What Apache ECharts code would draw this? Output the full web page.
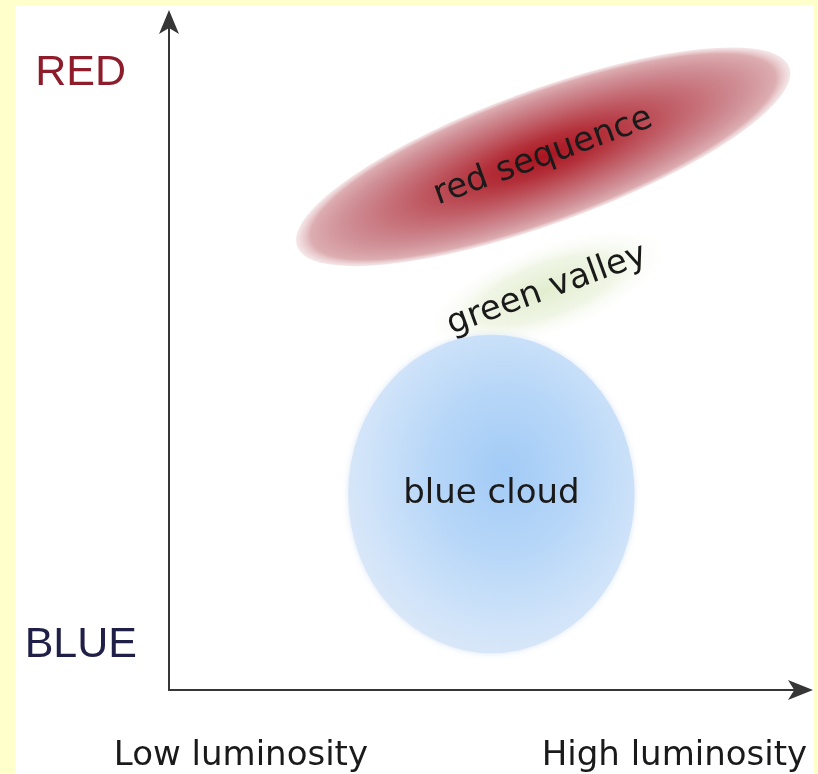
<!DOCTYPE html>
<html><head><meta charset="utf-8">
<script src="https://cdn.jsdelivr.net/npm/echarts@6/dist/echarts.min.js"></script>
<style>
html,body{margin:0;padding:0;background:#ffffcc;width:818px;height:774px;overflow:hidden}
#chart{position:absolute;left:15px;top:5px;width:799px;height:769px;background:#fff}
</style></head><body><div id="chart"></div>
<script>
// Regions of the colour–luminosity diagram (data units: luminosity 0–10, colour 0–10)
const regionNames = ['green valley', 'red sequence', 'blue cloud'];
const regionLuminosity = [5.99, 5.93, 5.11];   // centre, x
const regionColour = [5.98, 7.97, 2.93];       // centre, y
const regionSpreadLum = [2.1, 4.15, 2.27];     // half-extent along luminosity
const regionSpreadCol = [0.7, 1.0, 2.38];      // half-extent along colour
const regionTilt = [20, 20, 0];                // degrees

const xTickValues = [1.14, 8.01];
const xTickLabels = ['Low luminosity', 'High luminosity'];
const yTickValues = [0.67, 9.22];
const yTickLabels = ['BLUE', 'RED'];

const RG = echarts.graphic.RadialGradient;
const fills = [
  new RG(0.5, 0.5, 0.5, [
    {offset: 0, color: 'rgba(224,236,204,0.95)'},
    {offset: 0.55, color: 'rgba(234,242,220,0.75)'},
    {offset: 1, color: 'rgba(255,255,255,0)'}]),
  new RG(0.5, 0.5, 0.5, [
    {offset: 0, color: '#a8141f'},
    {offset: 0.25, color: '#b3303a'},
    {offset: 0.55, color: '#c2636c'},
    {offset: 0.82, color: '#d19299'},
    {offset: 0.94, color: '#dcadb1'},
    {offset: 1, color: 'rgba(236,208,211,0.5)'}]),
  new RG(0.55, 0.43, 0.6, [
    {offset: 0, color: '#a2cbf6'},
    {offset: 0.45, color: '#b8d7f8'},
    {offset: 0.8, color: '#cfe3f9'},
    {offset: 1, color: '#dbe8f8'}])
];

const seriesData = regionNames.map((n, i) => [regionLuminosity[i], regionColour[i], regionSpreadLum[i], regionSpreadCol[i], regionTilt[i]]);

const chart = echarts.init(document.getElementById('chart'));
chart.setOption({
  animation: false,
  grid: {left: 154, top: 16, right: 14, bottom: 84, outerBoundsMode: 'none'},
  xAxis: {
    type: 'value', min: 0, max: 10,
    splitLine: {show: false}, axisTick: {show: false},
    axisLine: {show: true, symbol: ['none', 'arrow'], symbolSize: [15, 25], symbolOffset: [0, 13], lineStyle: {color: '#363636', width: 2}},
    axisLabel: {
      customValues: xTickValues, margin: 49,
      formatter: v => xTickLabels[xTickValues.indexOf(v)],
      fontFamily: 'DejaVu Sans', fontSize: 34, color: '#1a1a1a'
    }
  },
  yAxis: {
    type: 'value', min: 0, max: 10,
    splitLine: {show: false}, axisTick: {show: false},
    axisLine: {show: true, symbol: ['none', 'arrow'], symbolSize: [15, 24], symbolOffset: [0, 11], lineStyle: {color: '#363636', width: 2}},
    axisLabel: {
      customValues: yTickValues, margin: 32,
      formatter: v => {
        const t = yTickLabels[yTickValues.indexOf(v)];
        return t === 'RED' ? '{r|' + t + '}' : '{b|' + t + '}';
      },
      rich: {
        r: {fontFamily: 'Liberation Sans', fontSize: 43, color: '#8e1c2b', padding: [0, 11, 0, 0]},
        b: {fontFamily: 'Liberation Sans', fontSize: 43, color: '#1f1f48'}
      }
    }
  },
  series: [{
    type: 'custom',
    coordinateSystem: 'cartesian2d',
    data: seriesData,
    renderItem: function (params, api) {
      const i = params.dataIndex;
      const c = api.coord([api.value(0), api.value(1)]);
      const rx = api.size([api.value(2), 0])[0];
      const ry = api.size([0, api.value(3)])[1];
      const rot = api.value(4) * Math.PI / 180;
      const shape = {
        type: 'circle', x: c[0], y: c[1], scaleX: rx / ry, rotation: rot, z2: i,
        shape: {cx: 0, cy: 0, r: ry},
        style: {fill: fills[i]}
      };
      if (i === 2) { shape.style.shadowBlur = 6; shape.style.shadowColor = 'rgba(215,228,246,0.9)'; }
      return {
        type: 'group',
        children: [shape, {
          type: 'text', x: c[0], y: c[1], rotation: rot, z2: 10,
          style: {text: regionNames[i], font: '34px "DejaVu Sans"', fill: '#1a1a1a', align: 'center', verticalAlign: 'middle'}
        }]
      };
    }
  }]
});
</script></body></html>
